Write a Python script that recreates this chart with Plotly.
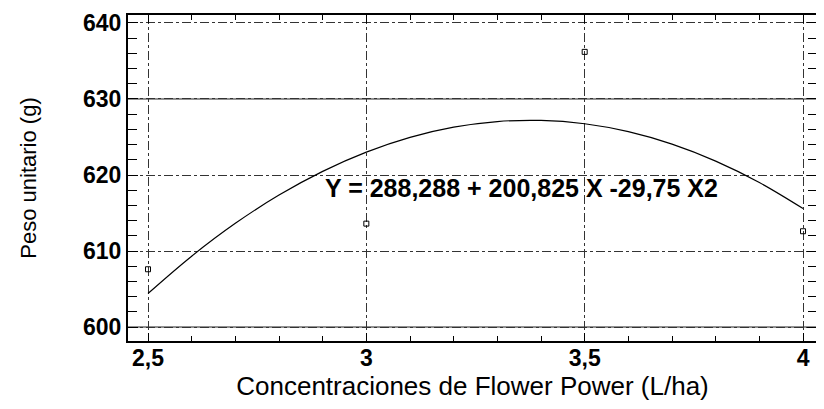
import plotly.graph_objects as go

conc = [2.5, 3.0, 3.5, 4.0]
peso = [607.6, 613.6, 636.2, 612.6]

# Fitted curve points (Y = 288,288 + 200,825 X - 29,75 X2)
curve_x = [2.5, 2.6, 2.7, 2.8, 2.9, 3.0, 3.1, 3.2, 3.3, 3.4, 3.5, 3.6, 3.7, 3.8, 3.9, 4.0]
curve_y = [604.41, 609.32, 613.64, 617.36, 620.48, 623.01, 624.95, 626.29,
           627.03, 627.18, 626.74, 625.70, 624.06, 621.83, 619.01, 615.59]

x_ticks = [2.5, 3.0, 3.5, 4.0]
x_labels = ["2,5", "3", "3,5", "4"]
y_ticks = [600, 610, 620, 630, 640]
equation = "Y = 288,288 + 200,825 X -29,75 X2"

FONT = "Liberation Sans, Arial, sans-serif"

fig = go.Figure()
fig.add_trace(go.Scatter(x=curve_x, y=curve_y, mode="lines",
                         line=dict(color="black", width=1.2, shape="spline"),
                         showlegend=False, hoverinfo="skip"))
fig.add_trace(go.Scatter(x=conc, y=peso, mode="markers",
                         marker=dict(symbol="square-open", size=5, color="black",
                                     line=dict(width=1, color="black")),
                         showlegend=False))

fig.add_annotation(x=3.355, y=618.3, xref="x", yref="y", text=equation,
                   showarrow=False, font=dict(family=FONT, size=25, color="black", weight="bold"))

# solid reference gridlines at 630 and 600 as in the original
for yv in (y_ticks[3], y_ticks[0]):
    fig.add_hline(y=yv, line=dict(color="#222", width=1), layer="below")

fig.update_layout(
    width=816, height=401,
    margin=dict(l=120, r=7, t=7, b=68),
    paper_bgcolor="white", plot_bgcolor="white",
    font=dict(family=FONT, color="black"),
)
fig.update_xaxes(
    range=[2.4542, 4.032], tickvals=x_ticks, ticktext=x_labels,
    tickfont=dict(family=FONT, size=23, color="black", weight="bold"),
    ticklabelstandoff=-5,
    showline=True, linecolor="black", linewidth=2, mirror="allticks",
    ticks="inside", ticklen=8, tickcolor="black",
    minor=dict(dtick=0.1, ticks="inside", ticklen=5, tickcolor="black", showgrid=False),
    showgrid=True, gridcolor="#333", griddash="dashdot", gridwidth=1,
    zeroline=False, automargin=False,
    title=dict(text="Concentraciones de Flower Power (L/ha)",
               font=dict(family=FONT, size=26, color="black"), standoff=0),
)
fig.update_yaxes(
    range=[598.16, 641.05], tickvals=y_ticks,
    tickfont=dict(family=FONT, size=23, color="black", weight="bold"),
    showline=True, linecolor="black", linewidth=2, mirror="allticks",
    ticks="inside", ticklen=10, tickcolor="black",
    minor=dict(dtick=2, ticks="inside", ticklen=9, tickcolor="black", showgrid=False),
    showgrid=True, gridcolor="#333", griddash="dashdot", gridwidth=1,
    zeroline=False, automargin=False,
    title=dict(text="Peso unitario (g)",
               font=dict(family=FONT, size=22, color="black"), standoff=40),
)

fig.write_html("out.html")
